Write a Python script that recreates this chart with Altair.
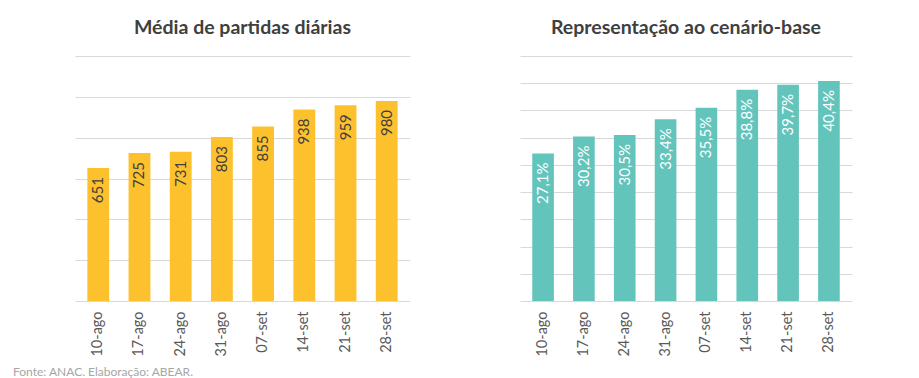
import altair as alt
import pandas as pd

semanas = ["10-ago", "17-ago", "24-ago", "31-ago", "07-set", "14-set", "21-set", "28-set"]
partidas = [651, 725, 731, 803, 855, 938, 959, 980]
representacao = [27.1, 30.2, 30.5, 33.4, 35.5, 38.8, 39.7, 40.4]
repr_labels = [f"{v:.1f}%".replace(".", ",") for v in representacao]

df = pd.DataFrame({
    "semana": semanas,
    "partidas": partidas,
    "repr": representacao,
    "repr_label": repr_labels,
})

FONT = "Lato"

x_enc = alt.X(
    "semana:N", sort=semanas, title=None,
    scale=alt.Scale(paddingInner=0.47, paddingOuter=0.3),
    axis=alt.Axis(labelAngle=270, labelFontSize=14.5, labelColor="#595959", labelFont=FONT,
                  ticks=False, tickSize=0, domain=False, labelPadding=10, grid=False),
)

def y_axis(values):
    return alt.Axis(values=values, labels=False, ticks=False, domain=False, title=None,
                    grid=True, gridColor="#d9d9d9", gridWidth=1)

def title(text):
    return alt.TitleParams(text, fontSize=19.5, font=FONT, fontWeight="bold", color="#404040",
                           anchor="middle", offset=18)

base = alt.Chart(df)

y_left = alt.Y("partidas:Q", scale=alt.Scale(domain=[0, 1200], nice=False),
               axis=y_axis(list(range(0, 1201, 200))))
y_right = alt.Y("repr:Q", scale=alt.Scale(domain=[0, 45], nice=False),
                axis=y_axis(list(range(0, 46, 5))))

left = alt.layer(
    base.mark_bar(color="#FDC12E").encode(x=x_enc, y=y_left),
    base.mark_text(angle=270, align="right", baseline="middle", dx=-9, fontSize=15,
                   color="#404040", font=FONT).encode(
        x=x_enc, y=y_left, text="partidas:Q"),
).properties(width=335, height=245, title=title("Média de partidas diárias"))

right = alt.layer(
    base.mark_bar(color="#63C4BC").encode(x=x_enc, y=y_right),
    base.mark_text(angle=270, align="right", baseline="middle", dx=-9, fontSize=15,
                   color="white", font=FONT).encode(
        x=x_enc, y=y_right, text="repr_label:N"),
).properties(width=332, height=245, title=title("Representação ao cenário-base"))

chart = alt.hconcat(left, right, spacing=110).properties(
    title=alt.TitleParams("Fonte: ANAC. Elaboração: ABEAR.", orient="bottom", anchor="start",
                          fontSize=12, font=FONT, fontWeight="normal", color="#a6a6a6",
                          dx=-62, offset=11),
    padding={"left": 5, "top": 9, "right": 5, "bottom": 0},
).configure_view(stroke=None)

chart.save("out.html", embed_options={"renderer": "svg", "actions": False})
